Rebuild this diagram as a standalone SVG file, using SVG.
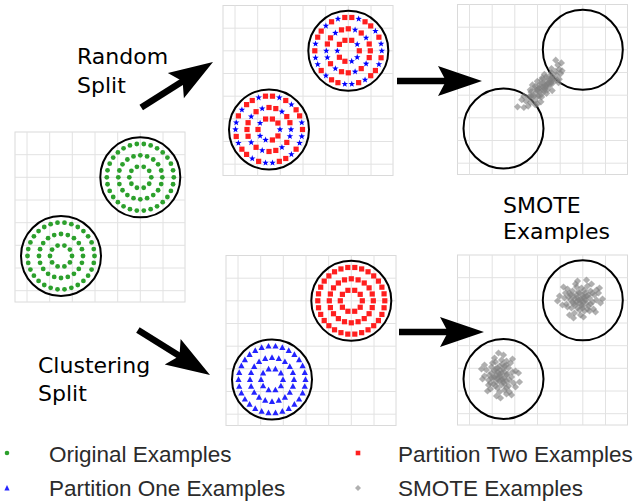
<svg xmlns="http://www.w3.org/2000/svg" xmlns:xlink="http://www.w3.org/1999/xlink" width="638" height="504" viewBox="0 0 638 504">
<style>
  .lbl { font-family: "DejaVu Sans", "Liberation Sans", sans-serif; font-size: 22px; fill: #000; }
  .leg { font-family: "Liberation Sans", Arial, sans-serif; font-size: 22.5px; fill: #2b2b2b; }
  .gridline { stroke: #e2e2e2; stroke-width: 1; fill: none; }
  .frame { fill: #fff; stroke: #dadada; stroke-width: 1; }
  .ring { fill: none; stroke: #000; stroke-width: 2; }
  .pts { fill: none; stroke: none; }
  .g { marker-start: url(#mG); marker-mid: url(#mG); marker-end: url(#mG); }
  .r { marker-start: url(#mR); marker-mid: url(#mR); marker-end: url(#mR); }
  .s { marker-start: url(#mStar); marker-mid: url(#mStar); marker-end: url(#mStar); }
  .t { marker-start: url(#mT); marker-mid: url(#mT); marker-end: url(#mT); }
  .d { marker-start: url(#mD); marker-mid: url(#mD); marker-end: url(#mD); }
  .q { marker-start: url(#mQ); marker-mid: url(#mQ); marker-end: url(#mQ); }
  .shaft { stroke: #000; stroke-width: 6.5; }
</style>
<defs>
  <marker id="mG" markerUnits="userSpaceOnUse" markerWidth="8" markerHeight="8" orient="0" overflow="visible"><circle r="2.4" fill="#2ca02c"/></marker>
  <marker id="mR" markerUnits="userSpaceOnUse" markerWidth="8" markerHeight="8" orient="0" overflow="visible"><rect x="-2.6" y="-2.6" width="5.2" height="5.2" fill="#ff1f1f"/></marker>
  <marker id="mStar" markerUnits="userSpaceOnUse" markerWidth="8" markerHeight="8" orient="0" overflow="visible"><polygon points="0,-3.4 0.82,-1.13 3.23,-1.05 1.33,0.43 2,2.75 0,1.4 -2,2.75 -1.33,0.43 -3.23,-1.05 -0.82,-1.13" fill="#0000ff"/></marker>
  <marker id="mT" markerUnits="userSpaceOnUse" markerWidth="8" markerHeight="8" orient="0" overflow="visible"><polygon points="0,-3.3 3.1,2.4 -3.1,2.4" fill="#2424ff"/></marker>
  <marker id="mD" markerUnits="userSpaceOnUse" markerWidth="8" markerHeight="8" orient="0" overflow="visible"><polygon points="0,-3.6 3.6,0 0,3.6 -3.6,0" fill="#7f7f7f" fill-opacity="0.62"/></marker>
  <marker id="mQ" markerUnits="userSpaceOnUse" markerWidth="8" markerHeight="8" orient="0" overflow="visible"><rect x="-2.55" y="-2.55" width="5.1" height="5.1" fill="#7f7f7f" fill-opacity="0.62"/></marker>

  <g id="panel">
    <rect class="frame" x="0" y="0" width="170" height="170"/>
    <path class="gridline" d="M12 0V170M34.7 0V170M57.3 0V170M80 0V170M102.7 0V170M125.3 0V170M148 0V170M0 22.7H170M0 45.3H170M0 68H170M0 90.7H170M0 113.3H170M0 136H170M0 158.7H170"/>
    <circle class="ring" cx="125.3" cy="45.3" r="40"/>
    <circle class="ring" cx="46" cy="124" r="40"/>
  </g>

  <polyline id="ringpts" class="pts" points="11,0 8.9,6.47 3.4,10.46 -3.4,10.46 -8.9,6.47 -11,0 -8.9,-6.47 -3.4,-10.46 3.4,-10.46 8.9,-6.47 22,0 20.92,6.8 17.8,12.93 12.93,17.8 6.8,20.92 0,22 -6.8,20.92 -12.93,17.8 -17.8,12.93 -20.92,6.8 -22,0 -20.92,-6.8 -17.8,-12.93 -12.93,-17.8 -6.8,-20.92 0,-22 6.8,-20.92 12.93,-17.8 17.8,-12.93 20.92,-6.8 33.5,0 32.77,6.96 30.6,13.62 27.1,19.69 22.41,24.89 16.75,29.01 10.35,31.86 3.5,33.32 -3.5,33.32 -10.35,31.86 -16.75,29.01 -22.41,24.89 -27.1,19.69 -30.6,13.62 -32.77,6.96 -33.5,0 -32.77,-6.96 -30.6,-13.62 -27.1,-19.69 -22.41,-24.89 -16.75,-29.01 -10.35,-31.86 -3.5,-33.32 3.5,-33.32 10.35,-31.86 16.75,-29.01 22.41,-24.89 27.1,-19.69 30.6,-13.62 32.77,-6.96"/>

  <g id="mix">
    <polyline class="pts r" points="11,0 -3.4,10.46 -8.9,6.47 -8.9,-6.47 -3.4,-10.46 3.4,-10.46 22,0 20.92,6.8 12.93,17.8 0,22 -6.8,20.92 -17.8,12.93 -20.92,-6.8 -17.8,-12.93 -6.8,-20.92 0,-22 12.93,-17.8 20.92,-6.8 32.77,6.96 27.1,19.69 22.41,24.89 10.35,31.86 -10.35,31.86 -16.75,29.01 -27.1,19.69 -33.5,0 -30.6,-13.62 -27.1,-19.69 -16.75,-29.01 -3.5,-33.32 3.5,-33.32 16.75,-29.01 22.41,-24.89 30.6,-13.62"/>
    <polyline class="pts s" points="8.9,6.47 3.4,10.46 -11,0 8.9,-6.47 17.8,12.93 6.8,20.92 -12.93,17.8 -20.92,6.8 -22,0 -12.93,-17.8 6.8,-20.92 17.8,-12.93 33.5,0 30.6,13.62 16.75,29.01 3.5,33.32 -3.5,33.32 -22.41,24.89 -30.6,13.62 -32.77,6.96 -32.77,-6.96 -22.41,-24.89 -10.35,-31.86 10.35,-31.86 27.1,-19.69 32.77,-6.96"/>
  </g>

  <polyline id="cloud" class="pts d" points="0,0 3,-2 -4,3 6,4 -7,-3 2,7 -2,-7 9,-1 -10,1 5,-6 -5,6 8,7 -8,-8 12,3 -12,-2 1,-11 -1,11 10,-8 -9,9 14,-4 -14,5 4,12 -4,-12 16,1 -16,-1 7,-13 -6,14 13,10 -13,-10 18,-6 -18,6 0,16 11,-15 -17,-12 20,4 -21,-3 3,18 -3,-18 15,13 -11,16 19,-11 -7,19 22,0 -23,2 6,-19 -1,4 3,3 -3,-1 2,-4 5,1 -6,0 1,6 8,-4 -8,3 4,-9 -3,9 10,5 -11,-6 1,2 -2,1 4,-1 -4,-4 2,9 -7,5 6,-3 -1,-6 7,10 -10,-4 12,-6 -13,8 9,12 -5,-15 16,-9 -15,-6"/>

  <g id="arrow">
    <line class="shaft" x1="-85" y1="0" x2="-34" y2="0"/>
    <polygon points="0,0 -44,-15 -36,0 -44,15" fill="#000"/>
  </g>
</defs>

<rect x="0" y="0" width="638" height="504" fill="#fff"/>

<g id="panel-original" transform="translate(15,132)">
  <use href="#panel"/>
  <use href="#ringpts" class="g" x="125.3" y="45.3"/>
  <use href="#ringpts" class="g" x="46" y="124"/>
</g>

<g id="panel-random-split" transform="translate(223,5.5)">
  <use href="#panel"/>
  <use href="#mix" transform="translate(125.3,45.3)"/>
  <use href="#mix" transform="translate(46,124) scale(-1,1)"/>
</g>

<g id="panel-random-smote" transform="translate(457.5,4.5)">
  <use href="#panel"/>
  <polyline class="pts q" transform="translate(85.5,82.5) rotate(-45)" points="-20,2 -17,-3 -15,4 -13,0 -12,-5 -10,3 -9,-1 -8,6 -7,-4 -6,1 -5,-6 -4,4 -3,-2 -2,2 -1,-4 0,0 1,5 2,-3 3,2 4,-6 5,1 6,4 7,-2 8,3 9,-5 10,0 11,4 12,-3 13,2 14,-1 15,5 16,-4 18,1 20,-2 22,3 24,-1 -22,-2 -24,3 -18,7 17,6 -11,-7 -2,7 6,-7 -14,-2 3,-1 -6,-2 9,2 0,3 -28,1 -32,-4 -24,-6 26,-5 28,-10 30,-4 25,2 -16,8 -12,9 -6,-9 0,-8 4,9 10,-8 14,8 19,-7 -20,-7 -4,-1 2,1 -9,4 7,1 12,0 -15,-1"/>
</g>

<g id="panel-clustering-split" transform="translate(226,255.5)">
  <use href="#panel"/>
  <use href="#ringpts" class="r" x="125.3" y="45.3"/>
  <use href="#ringpts" class="t" x="46" y="124"/>
</g>

<g id="panel-clustering-smote" transform="translate(457.5,255)">
  <use href="#panel"/>
  <use href="#cloud" transform="translate(123,44)"/>
  <use href="#cloud" transform="translate(43,121) rotate(90)"/>
</g>

<g id="connectors">
  <use href="#arrow" transform="translate(213,62) rotate(-32.4)"/>
  <use href="#arrow" transform="translate(210,375) rotate(32)"/>
  <use href="#arrow" transform="translate(482,81)"/>
  <use href="#arrow" transform="translate(484,332)"/>
</g>

<g id="label-random-split">
  <text class="lbl" x="77" y="64">Random</text>
  <text class="lbl" x="77" y="93">Split</text>
</g>
<g id="label-clustering-split">
  <text class="lbl" x="38" y="373">Clustering</text>
  <text class="lbl" x="38" y="401">Split</text>
</g>
<g id="label-smote">
  <text class="lbl" x="503" y="213">SMOTE</text>
  <text class="lbl" x="503" y="239">Examples</text>
</g>

<g id="legend">
  <circle cx="7" cy="453" r="2.3" fill="#2ca02c"/>
  <text class="leg" x="49" y="462">Original Examples</text>
  <polygon points="7,485 9.6,490.6 4.4,490.6" fill="#2424ff"/>
  <text class="leg" x="49" y="496">Partition One Examples</text>
  <rect x="355.7" y="450.7" width="4.6" height="4.6" fill="#ff1f1f"/>
  <text class="leg" x="398" y="462">Partition Two Examples</text>
  <polygon points="358,485 361,488 358,491 355,488" fill="#b0b0b0"/>
  <text class="leg" x="398" y="496">SMOTE Examples</text>
</g>
</svg>
